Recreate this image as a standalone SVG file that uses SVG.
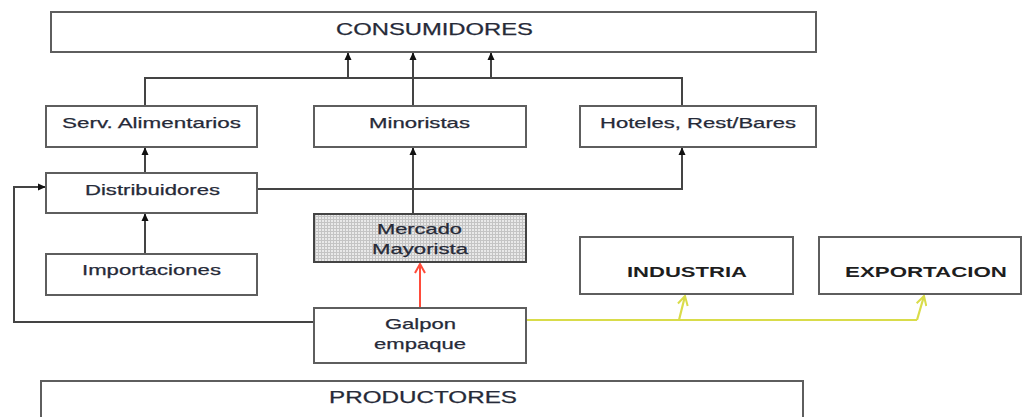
<svg xmlns="http://www.w3.org/2000/svg" width="1023" height="417" viewBox="0 0 1023 417">
<defs>
<style>
.box{fill:#fff;stroke:#5e5e5e;stroke-width:2}
.t{font-family:"Liberation Sans",Arial,sans-serif;font-size:15px;fill:#262a38;stroke:#262a38;stroke-width:0.25}
.b{font-weight:bold;fill:#1e1e1e;stroke:none}
.ln{fill:none;stroke:#444;stroke-width:2}
.red{fill:none;stroke:#ff4b3a;stroke-width:2}
.yel{fill:none;stroke:#d9dc4a;stroke-width:2.2}
</style>
<marker id="ah" viewBox="0 0 10 10" refX="9" refY="5" markerWidth="8" markerHeight="8" orient="auto" markerUnits="userSpaceOnUse">
<path d="M0,0.5 L10,5 L0,9.5 z" fill="#111"/>
</marker>
<marker id="ahr" viewBox="0 0 12 12" refX="11" refY="6" markerWidth="12" markerHeight="12" orient="auto" markerUnits="userSpaceOnUse">
<path d="M2,1 L11,6 L2,11" fill="none" stroke="#ff4b3a" stroke-width="2"/>
</marker>
<marker id="ahy" viewBox="0 0 12 12" refX="11" refY="6" markerWidth="12" markerHeight="12" orient="auto" markerUnits="userSpaceOnUse">
<path d="M2,1 L11,6 L2,11" fill="none" stroke="#d9dc4a" stroke-width="2"/>
</marker>
<pattern id="grid" width="3" height="3" patternUnits="userSpaceOnUse">
<rect width="3" height="3" fill="#e9e9e9"/>
<path d="M0,0.5 H3 M0.5,0 V3" stroke="#c4c4c4" stroke-width="1"/>
</pattern>
</defs>
<rect width="1023" height="417" fill="#fff"/>
<g id="connectors">
<path class="ln" d="M145,106 V78 H682 V106"/>
<path class="ln" d="M348,78 V53" marker-end="url(#ah)"/>
<path class="ln" d="M491,78 V53" marker-end="url(#ah)"/>
<path class="ln" d="M413,106 V53" marker-end="url(#ah)"/>
<path class="ln" d="M145,173 V148" marker-end="url(#ah)"/>
<path class="ln" d="M145,254 V214" marker-end="url(#ah)"/>
<path class="ln" d="M413,214 V148" marker-end="url(#ah)"/>
<path class="ln" d="M258,189 H682 V148" marker-end="url(#ah)"/>
<path class="ln" d="M314,322 H14 V187 H45" marker-end="url(#ah)"/>
<path class="red" d="M420,308 V264" marker-end="url(#ahr)"/>
<path class="yel" d="M527,320 H917"/>
<path class="yel" d="M679,320 L685,296" marker-end="url(#ahy)"/>
<path class="yel" d="M917,320 L924,296" marker-end="url(#ahy)"/>
</g>
<g id="consumidores"><rect class="box" x="51" y="12" width="765" height="40"/><text class="t" x="336" y="35" textLength="197" lengthAdjust="spacingAndGlyphs" style="font-size:17px">CONSUMIDORES</text></g>
<g id="serv"><rect class="box" x="46" y="106" width="211" height="41"/><text class="t" x="62" y="128" textLength="179" lengthAdjust="spacingAndGlyphs">Serv. Alimentarios</text></g>
<g id="minoristas"><rect class="box" x="314" y="106" width="212" height="41"/><text class="t" x="369" y="128" textLength="101" lengthAdjust="spacingAndGlyphs">Minoristas</text></g>
<g id="hoteles"><rect class="box" x="580" y="106" width="236" height="41"/><text class="t" x="600" y="128" textLength="196" lengthAdjust="spacingAndGlyphs">Hoteles, Rest/Bares</text></g>
<g id="distribuidores"><rect class="box" x="46" y="173" width="211" height="40"/><text class="t" x="85" y="195" textLength="135" lengthAdjust="spacingAndGlyphs">Distribuidores</text></g>
<g id="importaciones"><rect class="box" x="46" y="254" width="211" height="41"/><text class="t" x="82" y="275" textLength="139" lengthAdjust="spacingAndGlyphs">Importaciones</text></g>
<g id="mercado"><rect x="314" y="214" width="212" height="48" fill="url(#grid)" stroke="#444" stroke-width="2"/><text class="t" x="377" y="234" textLength="85" lengthAdjust="spacingAndGlyphs">Mercado</text><text class="t" x="372" y="254" textLength="96" lengthAdjust="spacingAndGlyphs">Mayorista</text></g>
<g id="galpon"><rect class="box" x="314" y="308" width="212" height="55"/><text class="t" x="385" y="329" textLength="71" lengthAdjust="spacingAndGlyphs">Galpon</text><text class="t" x="374" y="349" textLength="92" lengthAdjust="spacingAndGlyphs">empaque</text></g>
<g id="industria"><rect class="box" x="580" y="237" width="213" height="57"/><text class="t b" x="627" y="277" textLength="120" lengthAdjust="spacingAndGlyphs">INDUSTRIA</text></g>
<g id="exportacion"><rect class="box" x="819" y="237" width="202" height="57"/><text class="t b" x="845" y="277" textLength="162" lengthAdjust="spacingAndGlyphs">EXPORTACION</text></g>
<g id="productores"><rect class="box" x="41" y="381" width="762" height="50"/><text class="t" x="329" y="403" textLength="188" lengthAdjust="spacingAndGlyphs" style="font-size:17px">PRODUCTORES</text></g>
</svg>
